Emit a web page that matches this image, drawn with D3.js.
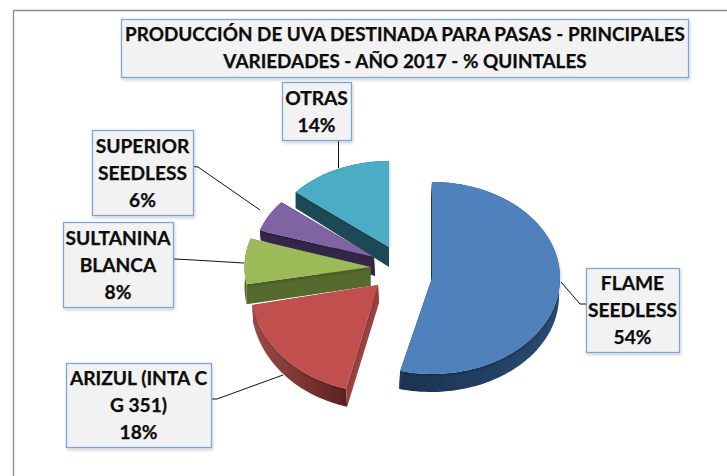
<!DOCTYPE html>
<html>
<head>
<meta charset="utf-8">
<script src="https://cdn.jsdelivr.net/npm/d3@7"></script>
<style>
  html, body { margin: 0; background: #fff; }
  svg { display: block; }
  text { font-family: Lato, "Open Sans", sans-serif; font-weight: 700; fill: #0c0c0c; stroke: #0c0c0c; stroke-width: 0.25; text-anchor: middle; }
</style>
</head>
<body>
<svg id="chart" width="727" height="476"></svg>
<script>
const titleLines = ['PRODUCCIÓN DE UVA DESTINADA PARA PASAS - PRINCIPALES', 'VARIEDADES - AÑO 2017 - % QUINTALES'];
const categories = ['FLAME SEEDLESS', 'ARIZUL (INTA C G 351)', 'SULTANINA BLANCA', 'SUPERIOR SEEDLESS', 'OTRAS'];
const values = [54, 18, 8, 6, 14];
const labelLines = [['FLAME', 'SEEDLESS'], ['ARIZUL (INTA C', 'G 351)'], ['SULTANINA', 'BLANCA'], ['SUPERIOR', 'SEEDLESS'], ['OTRAS']];

// each slice is exploded on its own, so apex and radii differ per slice
const sliceLayout = [
  { cx: 432, cy: 278, rx: 128, ry: 96, depth: 18, apexDepth: 18, shift: -1, top: '#4f81bd', wall: '#1f3a5c', rimFrom: '#1b3350', rimTo: '#2a4a72' },
  { cx: 378, cy: 285, rx: 128, ry: 107, depth: 18, apexDepth: 18, shift: 1, top: '#c0504d', wall: '#9c4441', rimFrom: '#9c4a47', rimTo: '#5c2220' },
  { cx: 370.5, cy: 267, rx: 126, ry: 92, depth: 20, apexDepth: 19, shift: 0, top: '#9bbb59', wall: '#566a2e', rimFrom: '#566a2e', rimTo: '#566a2e' },
  { cx: 374, cy: 257, rx: 120, ry: 86, depth: 10, apexDepth: 19, shift: 1, top: '#8064a2', wall: '#34264a', rimFrom: '#34264a', rimTo: '#34264a' },
  { cx: 389, cy: 247, rx: 121, ry: 86, depth: 16, apexDepth: 20, shift: 0, top: '#4bacc6', wall: '#1d4a56', rimFrom: '#1d4a56', rimTo: '#1d4a56' }
];
const drawOrder = [4, 3, 2, 1, 0];

const boxes = [
  { x: 586, y: 268, w: 93, h: 84 },
  { x: 66, y: 363, w: 145, h: 84 },
  { x: 63, y: 222, w: 110, h: 85 },
  { x: 92, y: 130, w: 101, h: 85 },
  { x: 282, y: 82, w: 69, h: 58 }
];
const leaders = [
  [[586, 304], [580, 304], [561, 282]],
  [[211, 399], [217, 399], [283, 375]],
  [[173, 259], [185, 259.5], [244, 263]],
  [[193, 166.5], [198, 167], [260, 210]],
  [[338.5, 140], [338.5, 168]]
];

const svg = d3.select('#chart');
const defs = svg.append('defs');

const shadow = defs.append('filter').attr('id', 'shadow')
  .attr('x', '-10%').attr('y', '-10%').attr('width', '125%').attr('height', '125%');
shadow.append('feDropShadow').attr('dx', 1).attr('dy', 2).attr('stdDeviation', 1.5)
  .attr('flood-color', '#000').attr('flood-opacity', 0.18);

const soft = defs.append('filter').attr('id', 'soft');
soft.append('feGaussianBlur').attr('stdDeviation', 0.4);

// frame, open on the right and at the bottom
svg.append('path')
  .attr('d', d3.line()([[13.5, 476], [13.5, 10.5], [727, 10.5]]))
  .attr('fill', 'none').attr('stroke', '#8c8c8c').attr('stroke-width', 1.3);

const slices = d3.pie().sort(null)(values);
const line = d3.line();

function rimPoint(s, angle, down) {
  return [s.cx + s.rx * Math.sin(angle), s.cy - s.ry * Math.cos(angle) + down];
}

function rimAngles(d) {
  const steps = Math.max(8, Math.round((d.endAngle - d.startAngle) * 30));
  return d3.range(steps + 1).map((i) => d.startAngle + (d.endAngle - d.startAngle) * i / steps);
}

const pieLayer = svg.append('g').attr('filter', 'url(#soft)');

drawOrder.forEach((i) => {
  const d = slices[i];
  const s = sliceLayout[i];
  const angles = rimAngles(d);
  const g = pieLayer.append('g');

  const gradId = `rim-${i}`;
  const grad = defs.append('linearGradient').attr('id', gradId);
  grad.append('stop').attr('offset', '0%').attr('stop-color', s.rimFrom);
  grad.append('stop').attr('offset', '100%').attr('stop-color', s.rimTo);

  const rimTop = angles.map((a) => rimPoint(s, a, 0));
  const rimBottom = angles.map((a) => {
    const p = rimPoint(s, a, s.depth);
    return [p[0] + s.shift, p[1]];
  }).reverse();
  g.append('path')
    .attr('d', line(rimTop.concat(rimBottom)) + 'Z')
    .attr('fill', `url(#${gradId})`);

  [d.endAngle, d.startAngle].forEach((a) => {
    const outer = rimPoint(s, a, 0);
    g.append('path')
      .attr('d', line([
        [s.cx, s.cy],
        outer,
        [outer[0] + s.shift, outer[1] + s.depth],
        [s.cx + s.shift, s.cy + s.apexDepth]
      ]) + 'Z')
      .attr('fill', s.wall);
  });

  g.append('path')
    .attr('d', line([[s.cx, s.cy]].concat(rimTop)) + 'Z')
    .attr('fill', s.top)
    .attr('filter', 'url(#shadow)');
});

const leaderLayer = svg.append('g');
leaders.forEach((pts) => {
  leaderLayer.append('path')
    .attr('d', line(pts))
    .attr('fill', 'none').attr('stroke', '#111').attr('stroke-width', 1);
});

function drawBox(b) {
  return svg.append('rect')
    .attr('x', b.x + 0.5).attr('y', b.y + 0.5)
    .attr('width', b.w).attr('height', b.h)
    .attr('fill', '#f2f2f2')
    .attr('stroke', '#7fa5d6').attr('stroke-width', 1.3)
    .attr('filter', 'url(#shadow)');
}

drawBox({ x: 121, y: 19, w: 567, h: 58 });
const titleText = svg.append('text').attr('font-size', 18.9);
titleLines.forEach((t, i) => {
  titleText.append('tspan').attr('x', 405).attr('y', 40.5 + i * 27.5).text(t);
});

categories.forEach((name, i) => {
  const b = boxes[i];
  drawBox(b).append('title').text(name);
  const rows = labelLines[i].concat(`${values[i]}%`);
  const first = b.y + b.h / 2 + 7 - (rows.length - 1) * 13.5;
  const label = svg.append('text').attr('font-size', 19.2);
  rows.forEach((t, j) => {
    label.append('tspan').attr('x', b.x + b.w / 2).attr('y', first + j * 27).text(t);
  });
});
</script>
</body>
</html>
